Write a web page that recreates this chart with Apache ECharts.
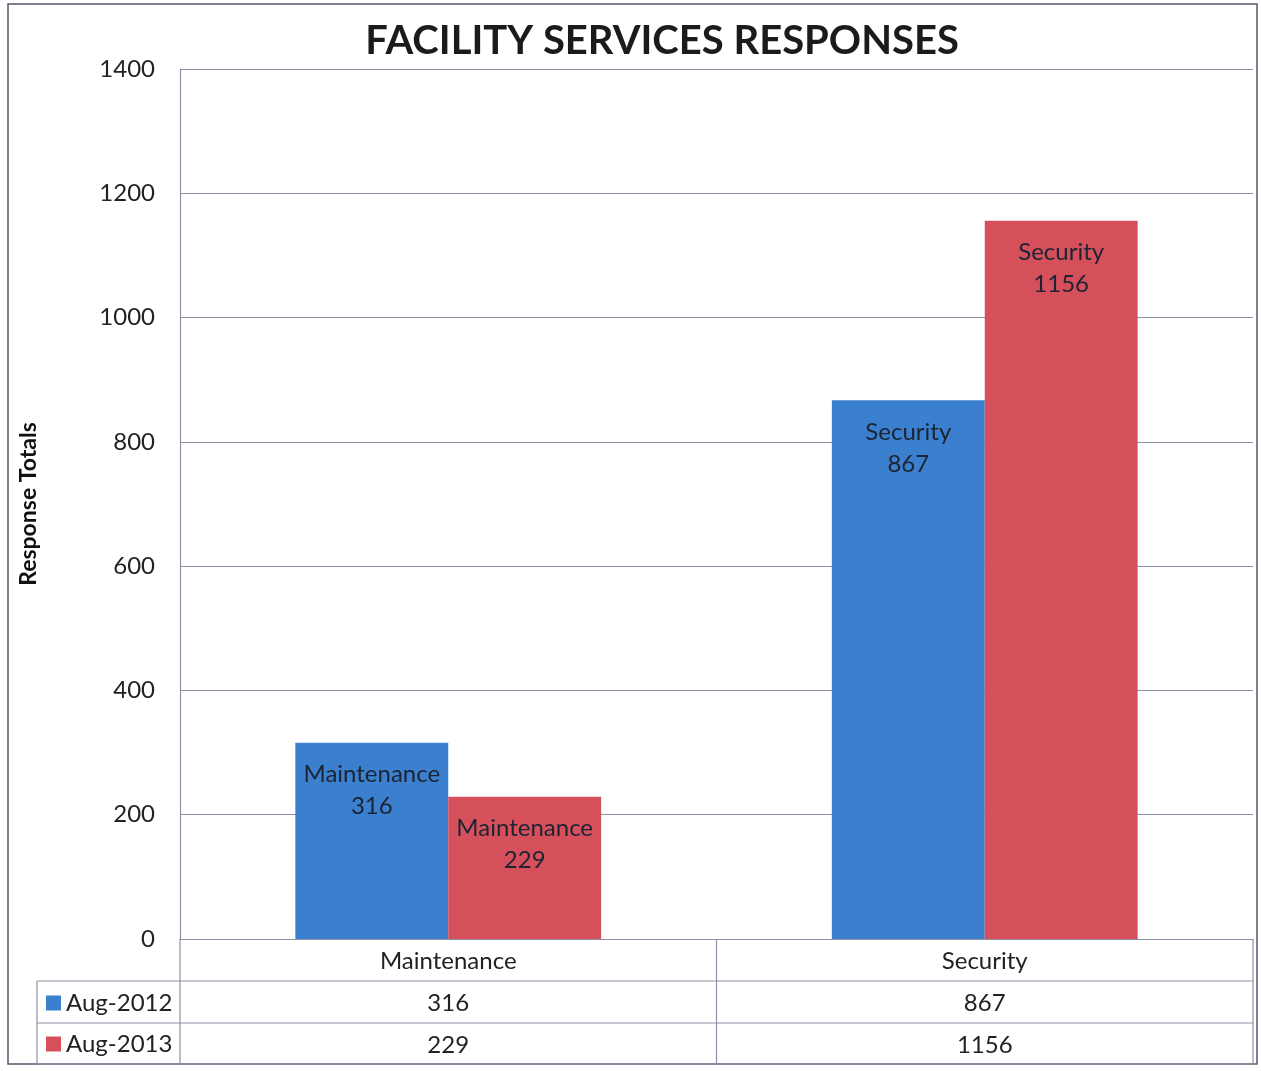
<!DOCTYPE html>
<html><head><meta charset="utf-8">
<script src="https://cdn.jsdelivr.net/npm/echarts@6/dist/echarts.min.js"></script>
<style>html,body{margin:0;padding:0;background:#fff}#c{width:1261px;height:1071px}</style>
</head><body><div id="c"></div>
<script>
const categories = ['Maintenance', 'Security'];
const seriesNames = ['Aug-2012', 'Aug-2013'];
const aug2012 = [316, 867];
const aug2013 = [229, 1156];
const yTicks = [0, 200, 400, 600, 800, 1000, 1200, 1400];

const FONT = 'Lato, "Open Sans", sans-serif';
const BLUE = '#3b7fcf', RED = '#d6505c';
const LINE = '#8d91a6';
const G = {left: 180, right: 1253, top: 69, bottom: 939};
const ROW = [939, 981, 1023, 1064];
const FS = 24;

const chart = echarts.init(document.getElementById('c'));
const lineStyle = {stroke: LINE, lineWidth: 1.2};
const graphics = [
  {type: 'rect', shape: {x: 8, y: 4, width: 1249, height: 1060}, style: {fill: 'none', stroke: '#55596a', lineWidth: 1.5}, silent: true},
  {type: 'line', shape: {x1: G.left, y1: ROW[0], x2: G.left, y2: ROW[3]}, style: lineStyle},
  {type: 'line', shape: {x1: (G.left + G.right) / 2, y1: ROW[0], x2: (G.left + G.right) / 2, y2: ROW[3]}, style: lineStyle},
  {type: 'line', shape: {x1: G.right, y1: ROW[0], x2: G.right, y2: ROW[3]}, style: lineStyle},
  {type: 'line', shape: {x1: 37, y1: ROW[1], x2: 37, y2: ROW[3]}, style: lineStyle},
  {type: 'line', shape: {x1: 37, y1: ROW[1], x2: G.right, y2: ROW[1]}, style: lineStyle},
  {type: 'line', shape: {x1: 37, y1: ROW[2], x2: G.right, y2: ROW[2]}, style: lineStyle},
  {type: 'line', shape: {x1: 37, y1: ROW[3], x2: G.right, y2: ROW[3]}, style: lineStyle}
];

const legendBase = {itemWidth: 15, itemHeight: 15, icon: 'rect', left: 41, itemGap: 4,
  textStyle: {fontFamily: FONT, fontSize: FS, color: '#222'}};

chart.setOption({
  animation: false,
  backgroundColor: '#fff',
  title: {
    text: 'FACILITY SERVICES RESPONSES', left: 657, textAlign: 'center', top: 16,
    textStyle: {fontFamily: FONT, fontWeight: 'bold', fontSize: 40, color: '#1b1b1b'}
  },
  legend: [
    Object.assign({}, legendBase, {top: 986, data: [seriesNames[0]]}),
    Object.assign({}, legendBase, {top: 1027, data: [seriesNames[1]]})
  ],
  grid: {left: G.left, right: 1261 - G.right, top: G.top, bottom: 1071 - G.bottom, containLabel: false},
  xAxis: {
    type: 'category', data: categories,
    axisLine: {show: true, lineStyle: {color: LINE, width: 1.2}},
    axisTick: {show: false},
    axisLabel: {
      margin: 1, interval: 0, lineHeight: 42, fontFamily: FONT, fontSize: FS, color: '#222',
      formatter: function (v, i) { return v + '\n' + aug2012[i] + '\n' + aug2013[i]; }
    }
  },
  yAxis: {
    type: 'value', min: yTicks[0], max: yTicks[yTicks.length - 1], interval: 200,
    name: 'Response Totals', nameLocation: 'middle', nameGap: 140, nameRotate: 90,
    nameTextStyle: {fontFamily: FONT, fontWeight: 'bold', fontSize: 23, color: '#111'},
    axisLine: {show: true, lineStyle: {color: LINE, width: 1.2}},
    axisTick: {show: false},
    axisLabel: {margin: 25, fontFamily: FONT, fontSize: FS, color: '#222',
      formatter: function (v) { return String(v); }},
    splitLine: {lineStyle: {color: LINE, width: 1.2}}
  },
  graphic: graphics,
  series: [
    {name: seriesNames[0], type: 'bar', data: aug2012, barGap: '0%', barCategoryGap: '43%',
     itemStyle: {color: BLUE},
     label: {show: true, position: 'insideTop', distance: 16, formatter: '{b}\n{c}', lineHeight: 32,
             fontFamily: FONT, fontSize: FS, color: '#1c2433'}},
    {name: seriesNames[1], type: 'bar', data: aug2013, barGap: '0%', barCategoryGap: '43%',
     itemStyle: {color: RED},
     label: {show: true, position: 'insideTop', distance: 16, formatter: '{b}\n{c}', lineHeight: 32,
             fontFamily: FONT, fontSize: FS, color: '#1c2433'}}
  ]
});
</script></body></html>
